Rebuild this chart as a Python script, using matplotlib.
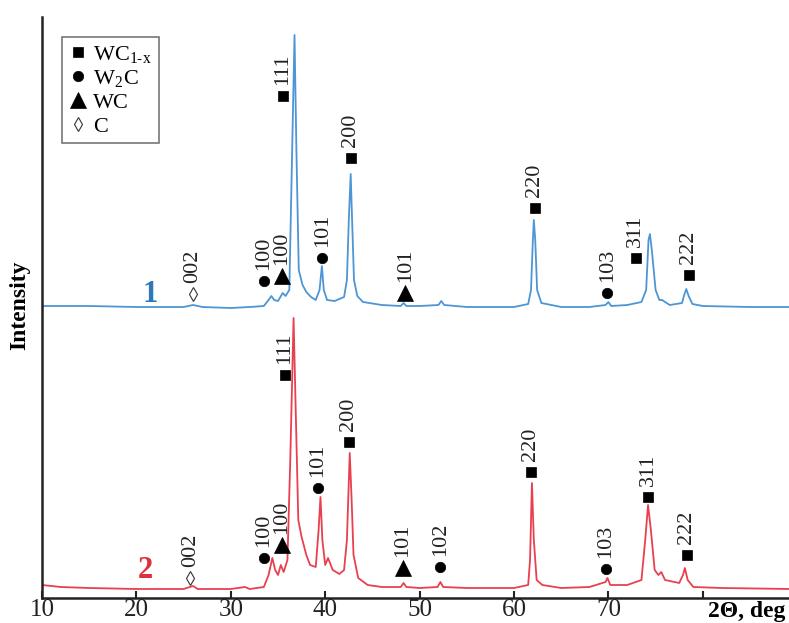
import matplotlib
matplotlib.use("Agg")
import matplotlib.pyplot as plt
from matplotlib.lines import Line2D

plt.rcParams['font.family'] = ['Liberation Serif', 'DejaVu Serif']
plt.rcParams['mathtext.fontset'] = 'stix'

# ---- data (2theta in deg, intensity in arbitrary units) ----
x1 = [10, 15, 20, 25, 26, 27, 30, 32, 33.5, 34.0, 34.3, 34.6, 35.0, 35.5, 35.8, 36.2,
      36.5, 36.75, 36.95, 37.2, 37.6, 38.0, 38.5, 39.0, 39.4, 39.65, 39.85, 40.2, 41.0,
      42.0, 42.3, 42.5, 42.7, 42.85, 43.05, 43.4, 44.0, 46, 48.0, 48.3, 48.6, 50, 52.0,
      52.3, 52.6, 55, 60, 61.5, 61.8, 62.0, 62.1, 62.25, 62.45, 62.9, 65, 68, 69.7, 70.0,
      70.3, 72, 73.5, 74.0, 74.25, 74.4, 74.6, 75.0, 75.4, 75.7, 76.0, 76.5, 77.8, 78.0,
      78.25, 78.5, 78.9, 80, 85, 89.2]
y1 = [292, 292, 291, 291, 293, 291, 290, 291, 292, 298, 302, 298, 297, 305, 302, 308,
      448, 563, 448, 328, 313, 306, 301, 298, 308, 332, 308, 298, 297,
      301, 318, 378, 424, 378, 318, 302, 296, 293, 292, 295, 292, 292, 293,
      297, 293, 291, 291, 294, 308, 358, 378, 358, 308, 295, 291, 291, 293, 296,
      292, 293, 296, 308, 358, 364, 348, 308, 298, 298, 296, 293, 295, 302,
      309, 302, 294, 292, 291, 291]

x2 = [10, 12, 15, 20, 25, 26, 26.5, 30, 31.5, 32, 33.5, 34.0, 34.4, 34.7, 35.0, 35.3,
      35.6, 36.0, 36.3, 36.65, 36.9, 37.15, 37.5, 38.0, 38.4, 39.0, 39.3, 39.5, 39.7,
      40.0, 40.3, 40.8, 41.5, 42.0, 42.3, 42.6, 42.8, 43.0, 43.5, 44.5, 46, 48.0, 48.3,
      48.6, 50, 51.9, 52.2, 52.5, 55, 60, 61.5, 61.7, 61.9, 62.1, 62.4, 63, 65, 68, 69.7,
      69.9, 70.2, 72, 73.5, 73.9, 74.2, 74.5, 74.9, 75.3, 75.6, 76.0, 77.5, 77.9, 78.1,
      78.4, 79, 82, 89.2]
y2 = [13, 11, 10, 9, 9, 12, 9, 9, 11, 9, 11, 23, 40, 28, 23, 33,
      26, 38, 138, 280, 178, 78, 61, 43, 33, 31, 68, 101, 58,
      33, 40, 28, 24, 28, 58, 145, 98, 43, 20, 13, 11, 11, 15,
      11, 10, 11, 16, 11, 10, 10, 13, 38, 115, 58, 18, 13, 10, 11, 16,
      20, 13, 13, 18, 58, 93, 68, 28, 23, 26, 18, 15, 23, 30,
      18, 11, 10, 9]

# peak annotations: position, marker height, hkl, phase
pk1_pos = [26.0, 33.5, 35.4, 35.5, 39.7, 42.7, 48.5, 62.2, 69.9, 72.9, 78.5]
pk1_h = [304, 317, 322, 502, 340, 440, 305, 390, 305, 340, 323]
pk1_hkl = ['002', '100', '100', '111', '101', '200', '101', '220', '103', '311', '222']
pk1_ph = ['C', 'W2C', 'WC', 'WC1-x', 'W2C', 'WC1-x', 'WC', 'WC1-x', 'W2C', 'WC1-x', 'WC1-x']

pk2_pos = [25.7, 33.5, 35.4, 35.7, 39.2, 42.5, 48.2, 52.2, 61.8, 69.7, 74.2, 78.3]
pk2_h = [20, 40, 53, 223, 110, 156, 30, 31, 126, 29, 101, 43]
pk2_hkl = ['002', '100', '100', '111', '101', '200', '101', '102', '220', '103', '311', '222']
pk2_ph = ['C', 'W2C', 'WC', 'WC1-x', 'W2C', 'WC1-x', 'WC', 'W2C', 'WC1-x', 'W2C', 'WC1-x', 'WC1-x']

xticks = [10, 20, 30, 40, 50, 60, 70, 80]
xticklabels = ['10', '20', '30', '40', '50', '60', '70', '']

phase_style = {
    'WC1-x': dict(marker='s', ms=7.5, mfc='black', mec='black', mew=0.5),
    'W2C': dict(marker='o', ms=7.5, mfc='black', mec='black', mew=0.5),
    'WC': dict(marker='^', ms=11, mfc='black', mec='black', mew=0.5),
    'C': dict(marker='d', ms=7, mfc='white', mec='#333333', mew=0.8),
}
phase_label = {'WC1-x': r'WC$_{\mathregular{1\text{-}x}}$', 'W2C': r'W$_{\mathregular{2}}$C',
               'WC': 'WC', 'C': 'C'}

blue = '#4d95d4'
red = '#e8404f'

W, H = 789, 623
fig = plt.figure(figsize=(W / 100, H / 100), dpi=100)
ax = fig.add_axes([42 / W, 25 / H, 747 / W, 581 / H])
ax.set_xlim(10, 10 + 747 / 9.44)
ax.set_ylim(0, 581)

ax.plot(x1, y1, color=blue, lw=1.3)
ax.plot(x2, y2, color=red, lw=1.3)

for pos, h, hkl, ph in list(zip(pk1_pos, pk1_h, pk1_hkl, pk1_ph)) + list(zip(pk2_pos, pk2_h, pk2_hkl, pk2_ph)):
    ax.plot([pos], [h], linestyle='none', **phase_style[ph])
    ax.annotate(hkl, (pos, h), xytext=(0, 8), textcoords='offset points',
                rotation=90, ha='center', va='bottom', fontsize=16, color='#222222')

ax.text(21.5, 304, '1', color='#2e78b8', fontsize=22, fontweight='bold',
        ha='center', va='center')
ax.text(20.9, 27, '2', color='#e0303c', fontsize=22, fontweight='bold',
        ha='center', va='center')

for s in ['top', 'right']:
    ax.spines[s].set_visible(False)
for s in ['left', 'bottom']:
    ax.spines[s].set_linewidth(1.8)
    ax.spines[s].set_color('#222222')
ax.set_yticks([])
ax.set_xticks(xticks)
ax.set_xticklabels(xticklabels)
ax.tick_params(axis='x', direction='in', length=5, width=1.5, labelsize=18, pad=1,
               colors='#222222')

fig.text(20 / W, 1 - 305 / H, 'Intensity', rotation=90, ha='center', va='center',
         fontsize=17, fontweight='bold')
fig.text(785 / W, 1 - 611 / H, '2Θ, deg', ha='right', va='center',
         fontsize=17, fontweight='bold')

handles = [Line2D([], [], linestyle='none', **phase_style[p]) for p in ['WC1-x', 'W2C', 'WC', 'C']]
labels = [phase_label[p] for p in ['WC1-x', 'W2C', 'WC', 'C']]
leg = fig.legend(handles, labels, loc='upper left', bbox_to_anchor=(62 / W, 1 - 37 / H),
                 fontsize=16, frameon=True, fancybox=False, edgecolor='#555555',
                 handlelength=0.8, handletextpad=0.3, labelspacing=0.15,
                 borderpad=0.3, borderaxespad=0)
leg.get_frame().set_linewidth(1.2)

fig.savefig('out.png', dpi=100)
